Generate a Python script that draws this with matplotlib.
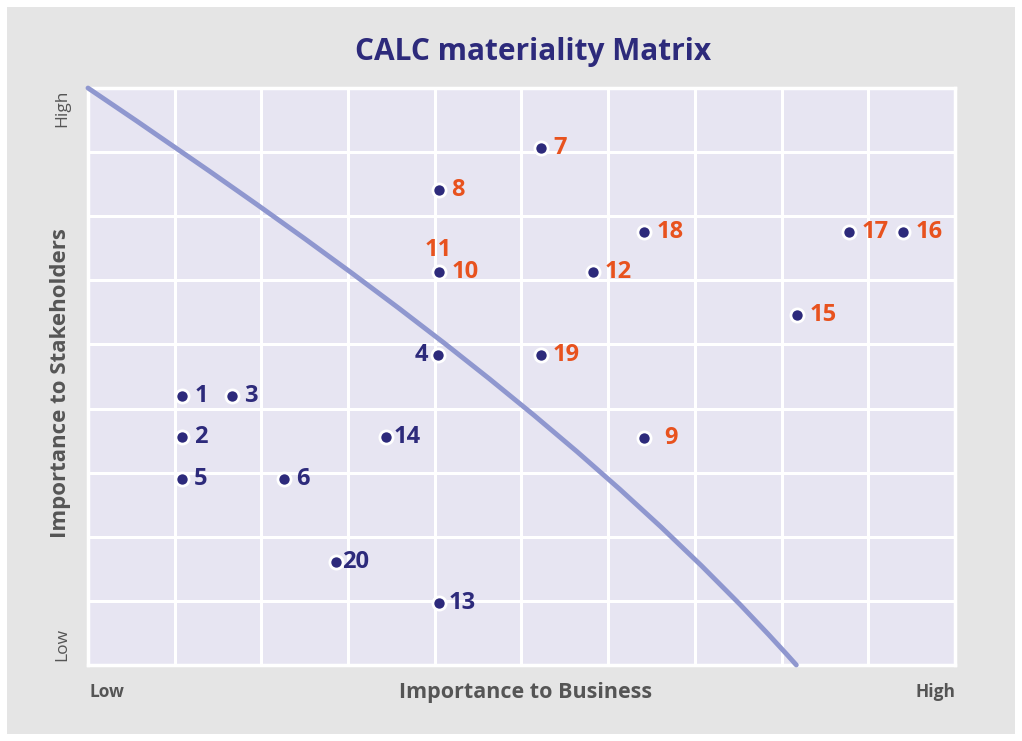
import numpy as np
import matplotlib.pyplot as plt
from matplotlib.patches import Rectangle, PathPatch
from matplotlib.path import Path

plt.rcParams['font.family'] = ['Open Sans', 'DejaVu Sans']

# issue ids, business importance (x), stakeholder importance (y)
ids = ['1', '2', '3', '4', '5', '6', '7', '8', '9', '10',
       '12', '13', '14', '15', '16', '17', '18', '19', '20']
bus = [1.08, 1.08, 1.66, 4.04, 1.08, 2.26, 5.22, 4.05, 6.41, 4.05,
       5.82, 4.05, 3.44, 8.18, 9.40, 8.78, 6.41, 5.22, 2.86]
stk = [4.20, 3.56, 4.20, 4.84, 2.90, 2.90, 8.07, 7.41, 3.54, 6.13,
       6.13, 0.97, 3.56, 5.46, 6.76, 6.76, 6.76, 4.84, 1.61]
material = ['7', '8', '9', '10', '11', '12', '15', '16', '17', '18', '19']

# materiality threshold curve, read where it crosses the grid
curve_x = [0, 1, 2, 3, 4, 5, 6, 7, 8, 8.17]
curve_y = [9.0, 8.11, 7.16, 6.16, 5.07, 4.06, 2.92, 1.64, 0.39, 0.0]

navy = '#2d2a7b'
orange = '#e8521e'
grey = '#555555'

fig = plt.figure(figsize=(10.22, 7.41), dpi=100)
fig.patch.set_facecolor('white')
bg = Rectangle((0.007, 0.009), 0.986, 0.981, transform=fig.transFigure,
               facecolor='#e5e5e5', edgecolor='none', zorder=-1)
fig.add_artist(bg)

ax = fig.add_axes([0.0861, 0.1026, 0.8483, 0.7786])
ax.set_facecolor('#e7e5f2')
ax.set_xlim(0, 10)
ax.set_ylim(0, 9)
ax.set_xticks(range(11))
ax.set_yticks(range(10))
ax.grid(True, color='white', linewidth=2.2)
ax.set_axisbelow(True)
ax.tick_params(length=0, labelbottom=False, labelleft=False)
for s in ax.spines.values():
    s.set_color('white')
    s.set_linewidth(2.5)

# smooth the threshold line: least-squares cubic bezier through the read points
cx = np.array(curve_x)
cy = np.array(curve_y)
d = np.r_[0, np.cumsum(np.hypot(np.diff(cx), np.diff(cy)))]
t = d / d[-1]
b0, b1, b2, b3 = (1 - t)**3, 3*t*(1 - t)**2, 3*t**2*(1 - t), t**3
p0 = np.array([cx[0], cy[0]])
p3 = np.array([cx[-1], cy[-1]])
A = np.column_stack([b1, b2])
rhs = np.column_stack([cx, cy]) - np.outer(b0, p0) - np.outer(b3, p3)
ctrl = np.linalg.lstsq(A, rhs, rcond=None)[0]
path = Path([p0, ctrl[0], ctrl[1], p3],
            [Path.MOVETO, Path.CURVE4, Path.CURVE4, Path.CURVE4])
ax.add_patch(PathPatch(path, facecolor='none', edgecolor='#8f97cf', linewidth=3.5,
                       capstyle='round', zorder=3, clip_on=False))

ax.scatter(bus, stk, s=90, color=navy, edgecolor='white', linewidth=2, zorder=4)

# a few labels sit tighter to their dot, 9 sits further away
gap = {'9': 14.5, '13': 6.5, '14': 5, '20': 4.5}
for i, x, y in zip(ids, bus, stk):
    col = orange if i in material else navy
    if i == '4':
        ax.annotate(i, (x, y), xytext=(-7.5, 0), textcoords='offset points', ha='right',
                    va='center', fontsize=17, fontweight='bold', color=col, zorder=5)
    else:
        ax.annotate(i, (x, y), xytext=(gap.get(i, 9), 0), textcoords='offset points',
                    ha='left', va='center', fontsize=17, fontweight='bold', color=col,
                    zorder=5)
# issue 11 shares its position with 10
ax.annotate('11', (bus[ids.index('10')], stk[ids.index('10')]), xytext=(-0.5, 15.5),
            textcoords='offset points', ha='center', va='center', fontsize=17,
            fontweight='bold', color=orange, zorder=5)

fig.text(0.522, 0.919, 'CALC materiality Matrix', ha='center', va='baseline',
         fontsize=21.5, fontweight='bold', color=navy)
fig.text(0.514, 0.066, 'Importance to Business', ha='center', va='center',
         fontsize=15.5, fontweight='bold', color=grey)
fig.text(0.088, 0.066, 'Low', ha='left', va='center', fontsize=12.5,
         fontweight='bold', color=grey)
fig.text(0.935, 0.066, 'High', ha='right', va='center', fontsize=12.5,
         fontweight='bold', color=grey)
fig.text(0.059, 0.483, 'Importance to Stakeholders', ha='center', va='center',
         rotation=90, fontsize=16, fontweight='bold', color=grey)
fig.text(0.061, 0.854, 'High', ha='center', va='center', rotation=90,
         fontsize=12.5, color=grey)
fig.text(0.061, 0.13, 'Low', ha='center', va='center', rotation=90,
         fontsize=12.5, color=grey)

fig.savefig('out.png', dpi=100)
